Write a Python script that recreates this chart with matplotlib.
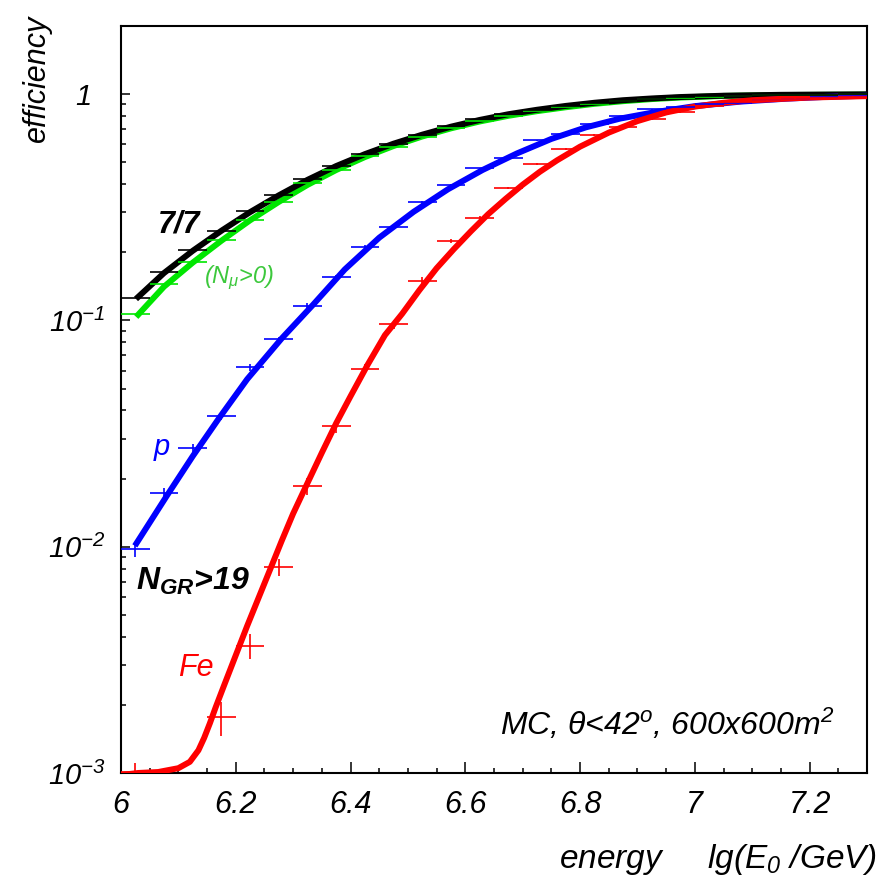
import matplotlib
matplotlib.use("Agg")
import matplotlib.pyplot as plt
from matplotlib.ticker import FixedLocator, MultipleLocator, LogLocator, NullFormatter
from matplotlib.transforms import ScaledTranslation

plt.rcParams['font.family'] = ['Liberation Sans', 'DejaVu Sans']
plt.rcParams['font.style'] = 'italic'
plt.rcParams['mathtext.fontset'] = 'custom'
plt.rcParams['mathtext.rm'] = 'Liberation Sans:italic'
plt.rcParams['mathtext.it'] = 'Liberation Sans:italic'
plt.rcParams['mathtext.bf'] = 'Liberation Sans:bold:italic'

# bin centres of the MC efficiency histograms (lg E0)
bins_x = [6.025, 6.075, 6.125, 6.175, 6.225, 6.275, 6.325, 6.375, 6.425, 6.475,
          6.525, 6.575, 6.625, 6.675, 6.725, 6.775, 6.825, 6.875, 6.925, 6.975,
          7.025, 7.075, 7.125, 7.175, 7.225, 7.275]
half_bin = 0.025

# 7/7 trigger
eff_77 = [0.126, 0.164, 0.204, 0.248, 0.303, 0.357, 0.421, 0.482, 0.543, 0.601,
          0.660, 0.720, 0.775, 0.815, 0.855, 0.890, 0.915, 0.935, 0.955, 0.970,
          0.980, 0.985, 0.990, 0.995, 0.995, 1.000]
# 7/7 with N_mu > 0
eff_mu = [0.107, 0.145, 0.181, 0.226, 0.278, 0.334, 0.404, 0.461, 0.532, 0.585,
          0.648, 0.705, 0.760, 0.800, 0.840, 0.875, 0.905, 0.930, 0.950, 0.965,
          0.975, 0.982, 0.988, 0.992, 0.995, 0.997]
# protons, N_GR > 19
eff_p = [0.00973, 0.01725, 0.0272, 0.0379, 0.0620, 0.0827, 0.116, 0.155, 0.211, 0.258,
         0.332, 0.397, 0.470, 0.522, 0.626, 0.666, 0.736, 0.802, 0.859, 0.880,
         0.900, 0.910, 0.940, 0.955, 0.970, 0.980]
err_p = [0.0007, 0.0009, 0.0012, 0.0015, 0.002, 0.002, 0.003, 0.003, 0.004, 0.004,
         0.004, 0.004, 0.004, 0.004, 0.004, 0.004, 0.004, 0.004, 0.004, 0.004,
         0.004, 0.004, 0.004, 0.004, 0.004, 0.004]
# iron, N_GR > 19 (two lowest bins are empty)
fe_x = [6.025, 6.175, 6.225, 6.275, 6.325, 6.375, 6.425, 6.475, 6.525, 6.575,
        6.625, 6.675, 6.725, 6.775, 6.825, 6.875, 6.925, 6.975, 7.025, 7.075,
        7.125, 7.175, 7.225, 7.275]
eff_fe = [0.00101, 0.00176, 0.00365, 0.0081, 0.0186, 0.0342, 0.0609, 0.096, 0.150, 0.225,
          0.284, 0.384, 0.489, 0.571, 0.661, 0.713, 0.776, 0.831, 0.889, 0.920,
          0.940, 0.955, 0.965, 0.975]
err_fe = [0.0001, 0.0003, 0.00045, 0.0007, 0.0016, 0.0024, 0.003, 0.004, 0.005, 0.005,
          0.005, 0.005, 0.005, 0.005, 0.005, 0.005, 0.005, 0.005, 0.005, 0.005,
          0.005, 0.005, 0.005, 0.005]

# fitted curves
fit_x = [6.03, 6.075, 6.125, 6.175, 6.225, 6.275, 6.325, 6.375, 6.425, 6.475, 6.525,
         6.575, 6.625, 6.675, 6.725, 6.775, 6.825, 6.875, 6.925, 6.975, 7.05, 7.15, 7.3]
fit_77 = [0.127, 0.162, 0.203, 0.249, 0.301, 0.357, 0.418, 0.481, 0.543, 0.604, 0.662,
          0.718, 0.769, 0.815, 0.853, 0.887, 0.916, 0.940, 0.957, 0.971, 0.984, 0.993, 0.998]
fit_mu = [0.106, 0.141, 0.180, 0.225, 0.277, 0.334, 0.397, 0.462, 0.527, 0.590, 0.650,
          0.706, 0.757, 0.802, 0.841, 0.875, 0.906, 0.931, 0.951, 0.966, 0.982, 0.991, 0.995]
fit_p_x = [6.027, 6.08, 6.125, 6.17, 6.22, 6.28, 6.335, 6.39, 6.45, 6.51, 6.57,
           6.63, 6.69, 6.75, 6.81, 6.87, 6.93, 7.0, 7.08, 7.16, 7.23, 7.3]
fit_p = [0.01035, 0.0168, 0.0251, 0.0367, 0.0550, 0.0832, 0.1175, 0.168, 0.232, 0.302,
         0.380, 0.462, 0.547, 0.634, 0.713, 0.780, 0.832, 0.885, 0.927, 0.955, 0.973, 0.984]
fit_fe_x = [6.0, 6.03, 6.065, 6.1, 6.12, 6.135, 6.145, 6.155, 6.165, 6.18, 6.2, 6.22,
            6.24, 6.26, 6.28, 6.3, 6.325, 6.35, 6.375, 6.4, 6.43, 6.46, 6.49, 6.52,
            6.55, 6.58, 6.61, 6.64, 6.67, 6.7, 6.73, 6.76, 6.8, 6.85, 6.9, 6.95,
            7.0, 7.05, 7.1, 7.2, 7.3]
fit_fe = [0.00098, 0.001, 0.00101, 0.00105, 0.00112, 0.00126, 0.00143, 0.00166, 0.00195,
          0.00245, 0.00331, 0.00447, 0.00596, 0.00794, 0.0106, 0.0140, 0.0191, 0.026,
          0.0351, 0.0462, 0.0638, 0.0861, 0.107, 0.136, 0.170, 0.2065, 0.248, 0.295,
          0.344, 0.398, 0.454, 0.510, 0.586, 0.676, 0.760, 0.830, 0.881, 0.916, 0.940,
          0.966, 0.980]

x_ticks = [6.0, 6.2, 6.4, 6.6, 6.8, 7.0, 7.2]
x_ticklabels = ["6", "6.2", "6.4", "6.6", "6.8", "7", "7.2"]
y_ticks = [1e-3, 1e-2, 1e-1, 1.0]
y_ticklabels = [r"$10^{-3}$", r"$10^{-2}$", r"$10^{-1}$", "1"]

green = "#00e600"
fig = plt.figure(figsize=(8.81, 8.82), dpi=100)
ax = fig.add_axes([0.1373, 0.1236, 0.8468, 0.8469])

lw_fit = 4.3
ax.plot(fit_x, fit_mu, color=green, lw=lw_fit, zorder=2)
ax.plot(fit_x, fit_77, color="black", lw=lw_fit, zorder=3)
ax.plot(fit_p_x, fit_p, color="blue", lw=lw_fit, zorder=3)
ax.plot(fit_fe_x, fit_fe, color="red", lw=lw_fit, zorder=3)

eb = dict(fmt="none", elinewidth=1.2, capsize=0, zorder=4)
ax.errorbar(bins_x, eff_mu, xerr=half_bin, ecolor=green, **eb)
ax.errorbar(bins_x, eff_77, xerr=half_bin, ecolor="black", **eb)
ax.errorbar(bins_x, eff_p, xerr=half_bin, yerr=err_p, ecolor="blue", **eb)
ax.errorbar(fe_x, eff_fe, xerr=half_bin, yerr=err_fe, ecolor="red", **eb)

ax.set_yscale("log")
ax.set_xlim(6.0, 7.3)
ax.set_ylim(1e-3, 2.0)

ax.xaxis.set_major_locator(FixedLocator(x_ticks))
ax.set_xticklabels(x_ticklabels)
ax.xaxis.set_minor_locator(MultipleLocator(0.05))
ax.yaxis.set_major_locator(FixedLocator(y_ticks))
ax.set_yticklabels(y_ticklabels)
ax.yaxis.set_minor_locator(LogLocator(base=10, subs=range(2, 10)))
ax.yaxis.set_minor_formatter(NullFormatter())

ax.tick_params(which="both", direction="in", width=1.1)
ax.tick_params(axis="x", which="major", length=8, pad=12, labelsize=22)
ax.tick_params(axis="x", which="minor", length=3.6)
ax.tick_params(axis="y", which="major", length=6.5, pad=11, labelsize=21)
ax.tick_params(axis="y", which="minor", length=3.3)
for s in ax.spines.values():
    s.set_linewidth(1.5)

# the plain "1" lines up with the mantissa of the powers of ten, not the exponent
one_label = ax.yaxis.get_major_ticks()[3].label1
one_label.set_transform(one_label.get_transform()
                        + ScaledTranslation(-0.14, 0, fig.dpi_scale_trans))

ax.set_ylabel("efficiency", fontsize=22, loc="top")
ax.yaxis.set_label_coords(-0.0925, 1.015)
ax.set_xlabel(r"energy     lg($E_{0}$ /GeV)", fontsize=24, loc="right")
ax.xaxis.set_label_coords(1.0134, -0.092)

ax.text(6.064, 0.245, "7/7", fontsize=22, fontweight="bold", color="black")
ax.text(6.144, 0.146, r"($N_{\mu}$>0)", fontsize=17, color="#3cc83c")
ax.text(6.057, 0.0254, "p", fontsize=21, color="blue")
ax.text(6.026, 0.00643, r"$\mathbf{N}_{\mathbf{GR}}$>19", fontsize=23,
        fontweight="bold", color="black")
ax.text(6.0997, 0.00268, "Fe", fontsize=22, color="red")
ax.text(0.957, 0.051, r"MC, $\theta$<42$^{o}$, 600x600m$^{2}$", fontsize=23,
        ha="right", va="baseline", transform=ax.transAxes)

fig.savefig("out.png", dpi=100)
